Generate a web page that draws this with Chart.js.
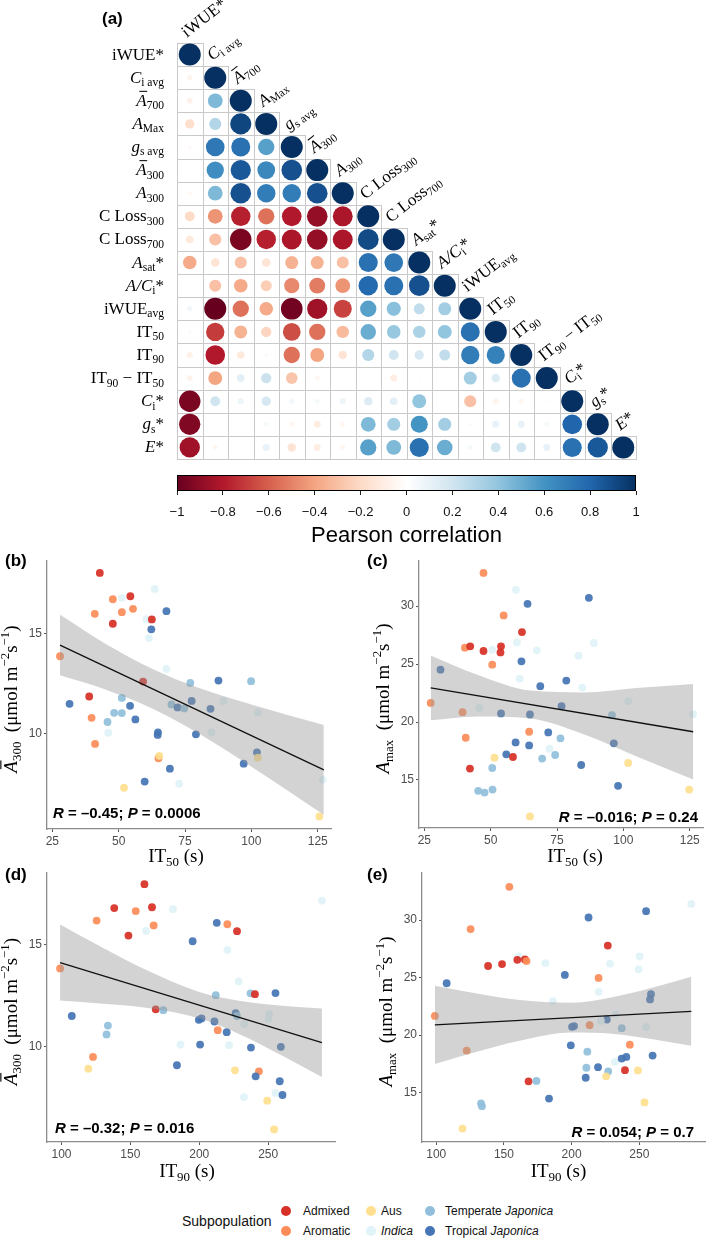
<!DOCTYPE html>
<html>
<head>
<meta charset="utf-8">
<title>Correlation matrix and scatter plots</title>
<script src="https://cdn.jsdelivr.net/npm/chart.js@4.4.1/dist/chart.umd.min.js"></script>
<style>
  body { margin: 0; background: #fff; font-family: "Liberation Sans", Arial, sans-serif; }
  #page { position: relative; width: 709px; height: 1241px; overflow: hidden; }
  #page canvas { position: absolute; }
  .tag { position: absolute; font-size: 17px; font-weight: bold; line-height: 1; }
  .legend-title { position: absolute; left: 182px; top: 1212px; font-size: 14px; line-height: 18px; color: #111; }
  .dot { position: absolute; width: 10px; height: 10px; border-radius: 50%; }
  .key { position: absolute; font-size: 12px; line-height: 14px; color: #111; white-space: nowrap; }
</style>
</head>
<body>
<div id="page">
  <canvas id="corr" width="709" height="470" style="left:0;top:0"></canvas>
  <canvas id="cbar" width="709" height="82" style="left:0;top:468px"></canvas>
  <canvas id="panelB" width="350" height="340" style="left:0;top:540px"></canvas>
  <canvas id="panelC" width="359" height="340" style="left:350px;top:540px"></canvas>
  <canvas id="panelD" width="350" height="340" style="left:0;top:850px"></canvas>
  <canvas id="panelE" width="359" height="340" style="left:350px;top:850px"></canvas>
  <div class="tag" style="left:102px;top:10px">(a)</div>
  <div class="tag" style="left:5px;top:552px">(b)</div>
  <div class="tag" style="left:367px;top:552px">(c)</div>
  <div class="tag" style="left:5px;top:866px">(d)</div>
  <div class="tag" style="left:367px;top:866px">(e)</div>
  <div class="legend-title">Subpopulation</div>
  <div id="legend"></div>
</div>
<script>
// ======= Data: panel (a) =======
// variable labels: [text, flags] with i = italic, s = subscript, u = superscript, b = bar
const varLabels = [
  [['iWUE*']],
  [['C', 'i'], ['i avg', 's']],
  [['A', 'ib'], ['700', 's']],
  [['A', 'i'], ['Max', 's']],
  [['g', 'i'], ['s avg', 's']],
  [['A', 'ib'], ['300', 's']],
  [['A', 'i'], ['300', 's']],
  [['C Loss'], ['300', 's']],
  [['C Loss'], ['700', 's']],
  [['A', 'i'], ['sat', 's'], ['*']],
  [['A/C', 'i'], ['i', 's'], ['*']],
  [['iWUE'], ['avg', 's']],
  [['IT'], ['50', 's']],
  [['IT'], ['90', 's']],
  [['IT'], ['90', 's'], [' \u2212 IT'], ['50', 's']],
  [['C', 'i'], ['i', 's'], ['*']],
  [['g', 'i'], ['s', 's'], ['*']],
  [['E', 'i'], ['*']]
];

// lower triangle of the Pearson matrix, row by row
const corrRows = [
  [1],
  [-0.06, 1],
  [-0.07, 0.45, 1],
  [-0.18, 0.3, 0.92, 1],
  [-0.03, 0.72, 0.75, 0.55, 1],
  [-0.01, 0.62, 0.85, 0.65, 0.88, 1],
  [-0.04, 0.45, 0.88, 0.7, 0.7, 0.88, 1],
  [-0.2, -0.45, -0.78, -0.55, -0.8, -0.88, -0.82, 1],
  [-0.12, -0.3, -0.95, -0.78, -0.82, -0.88, -0.82, 0.9, 1],
  [-0.38, -0.15, -0.3, -0.15, -0.35, -0.35, -0.3, 0.75, 0.72, 1],
  [-0.02, -0.3, -0.38, -0.25, -0.48, -0.52, -0.45, 0.78, 0.75, 0.88, 1],
  [0.06, -1.0, -0.55, -0.38, -0.97, -0.85, -0.68, 0.55, 0.42, 0.25, 0.35, 1],
  [-0.03, -0.7, -0.35, -0.22, -0.65, -0.55, -0.32, 0.5, 0.38, 0.32, 0.4, 0.75, 1],
  [-0.08, -0.8, -0.12, 0.03, -0.55, -0.4, -0.15, 0.3, 0.2, 0.18, 0.25, 0.7, 0.68, 1],
  [-0.07, -0.4, 0.12, 0.22, -0.28, -0.05, -0.01, 0.02, -0.1, 0.02, 0.01, 0.35, 0.15, 0.75, 1],
  [-0.95, 0.2, 0.08, 0.18, 0.06, 0.05, 0.08, 0.15, 0.12, 0.4, 0.01, -0.3, -0.06, -0.05, -0.02, 1],
  [-0.93, 0.01, 0.01, 0.05, -0.05, -0.1, -0.05, 0.45, 0.35, 0.6, 0.35, -0.03, 0.1, 0.1, 0.05, 0.8, 1],
  [-0.85, -0.05, -0.02, 0.1, -0.15, -0.1, -0.05, 0.55, 0.45, 0.75, 0.5, 0.05, 0.2, 0.2, 0.1, 0.75, 0.85, 1]
];

// ======= Data: scatter panels =======
const subpops = ['Admixed', 'Aromatic', 'Aus', 'Indica', 'Temperate Japonica', 'Tropical Japonica'];

// (b) IT50 vs A300
const it50B = [42.9, 63.6, 47.8, 51.2, 54.4, 41.0, 51.2, 55.4, 68.0, 47.8, 60.5, 62.5, 62.3, 61.4, 27.9, 68.0, 59.2, 77.0, 87.6, 99.9, 38.9, 31.5, 51.2, 54.3, 39.8, 48.3, 51.2, 45.8, 56.3, 46.1, 69.9, 72.2, 74.7, 77.5, 84.6, 89.5, 102.4, 64.8, 64.7, 79.1, 85.0, 41.1, 65.0, 65.3, 102.1, 102.4, 97.1, 69.3, 59.8, 52.0, 72.8, 126.9, 125.6];
const a300B = [18.05, 17.25, 16.73, 16.8, 16.88, 16.0, 16.08, 16.25, 16.13, 15.5, 15.73, 15.72, 15.22, 14.78, 13.87, 13.23, 12.6, 12.53, 12.65, 12.62, 11.85, 11.48, 11.78, 11.38, 10.78, 11.03, 11.02, 10.57, 10.7, 10.03, 11.45, 11.3, 11.25, 11.63, 11.23, 11.62, 11.05, 10.05, 9.92, 9.95, 10.05, 9.47, 8.75, 8.87, 9.05, 8.78, 8.48, 8.23, 7.58, 7.27, 7.47, 7.68, 5.83];
const subB = [0, 3, 1, 3, 0, 1, 1, 1, 5, 0, 3, 0, 5, 3, 1, 3, 0, 4, 5, 4, 0, 5, 4, 5, 1, 4, 4, 4, 5, 3, 4, 5, 4, 5, 5, 3, 3, 5, 5, 5, 3, 1, 1, 2, 5, 2, 5, 5, 5, 2, 3, 3, 2];
const fitXB = [27.9, 127.3], fitYB = [14.43, 8.17];
const bandXB = [27.9, 45, 63, 80, 100, 127.3];
const bandHiB = [15.95, 14.50, 13.22, 12.29, 11.45, 10.42];
const bandLoB = [12.91, 12.20, 11.22, 10.01, 8.33, 5.92];

// (c) IT50 vs Amax
const it50C = [47.3, 59.5, 63.9, 87.0, 54.9, 61.8, 40.3, 42.3, 47.3, 50.6, 53.9, 53.7, 59.9, 67.4, 88.9, 83.1, 61.6, 50.6, 31.1, 60.9, 68.7, 78.5, 84.5, 27.4, 45.7, 39.4, 53.9, 64.8, 76.7, 101.9, 95.7, 126.3, 64.5, 71.7, 40.6, 59.4, 76.3, 64.5, 96.4, 55.9, 72.2, 74.3, 58.4, 51.4, 69.4, 84.1, 101.8, 42.2, 50.6, 45.3, 47.7, 50.7, 98.0, 124.8, 64.8];
const amaxC = [32.87, 31.41, 30.2, 30.72, 29.2, 27.76, 26.42, 26.53, 26.13, 26.24, 26.53, 26.01, 26.87, 26.19, 26.82, 25.73, 25.24, 24.95, 24.52, 23.75, 23.09, 23.58, 22.97, 21.65, 21.22, 20.85, 20.74, 20.65, 21.37, 21.8, 20.59, 20.68, 19.16, 19.1, 18.64, 18.24, 18.59, 17.98, 18.16, 17.21, 17.7, 17.15, 16.98, 16.92, 16.84, 16.29, 16.46, 15.98, 16.03, 14.06, 13.91, 14.17, 14.49, 14.17, 11.85];
const subC = [1, 3, 5, 5, 1, 0, 1, 0, 0, 3, 0, 0, 3, 3, 3, 3, 5, 1, 5, 3, 5, 5, 3, 1, 3, 1, 5, 5, 5, 3, 4, 3, 1, 5, 1, 5, 4, 5, 5, 5, 3, 4, 0, 2, 4, 5, 2, 0, 4, 4, 4, 4, 5, 2, 2];
const fitXC = [27.4, 126.3], fitYC = [22.95, 19.16];
const bandXC = [27.4, 45, 65, 85, 105, 126.3];
const bandHiC = [25.75, 24.08, 22.71, 22.55, 22.93, 23.29];
const bandLoC = [20.15, 20.48, 20.31, 18.95, 17.03, 15.03];

// (d) IT90 vs A300
const it90D = [160.2, 289.0, 138.3, 153.9, 165.7, 180.9, 125.5, 166.9, 161.4, 148.6, 212.7, 220.4, 227.4, 195.2, 220.4, 99.0, 228.6, 237.2, 240.4, 255.3, 212.0, 168.4, 173.9, 107.5, 133.7, 132.7, 199.7, 201.6, 211.0, 226.4, 227.4, 232.7, 250.7, 250.3, 213.4, 219.9, 186.4, 200.6, 221.6, 237.5, 259.2, 122.9, 119.5, 183.8, 225.9, 243.3, 240.9, 258.4, 232.4, 255.3, 249.3, 260.4, 254.3];
const a300D = [18.0, 17.19, 16.82, 16.67, 16.86, 16.77, 16.2, 15.96, 15.69, 15.46, 16.09, 16.02, 15.68, 15.18, 14.75, 13.84, 13.2, 12.61, 12.57, 12.62, 12.52, 11.82, 11.78, 11.49, 11.02, 10.58, 11.3, 11.37, 11.22, 11.63, 11.49, 11.09, 11.6, 11.35, 10.79, 10.69, 10.08, 10.08, 10.05, 9.93, 9.97, 9.47, 8.89, 9.06, 8.81, 8.76, 8.51, 8.27, 7.49, 7.69, 7.31, 7.59, 5.89];
const subD = [0, 3, 0, 1, 0, 3, 1, 1, 3, 0, 5, 1, 0, 5, 3, 1, 3, 4, 0, 5, 4, 0, 4, 5, 4, 4, 5, 5, 5, 5, 4, 3, 3, 3, 1, 5, 3, 5, 3, 5, 5, 1, 2, 5, 2, 1, 5, 5, 3, 3, 2, 5, 2];
const fitXD = [99, 289], fitYD = [14.13, 10.17];
const bandXD = [99, 130, 160, 200, 230, 260, 289];
const bandHiD = [16.01, 14.86, 13.81, 12.68, 12.23, 12.00, 11.86];
const bandLoD = [12.25, 12.10, 11.91, 11.38, 10.57, 9.54, 8.48];

// (e) IT90 vs Amax
const it90E = [154.0, 288.4, 255.0, 212.5, 125.4, 226.7, 138.3, 148.6, 161.2, 159.9, 165.5, 166.7, 180.6, 228.4, 250.2, 249.5, 107.7, 195.0, 219.9, 219.9, 186.2, 258.6, 257.9, 99.0, 232.5, 226.0, 221.7, 213.3, 200.3, 201.8, 237.0, 255.0, 122.5, 243.0, 199.4, 211.6, 232.0, 237.0, 240.4, 259.8, 210.9, 219.5, 227.0, 239.4, 249.0, 225.5, 210.4, 168.2, 174.0, 183.3, 133.1, 133.8, 253.8, 119.4];
const amaxE = [32.9, 31.41, 30.78, 30.23, 29.22, 27.79, 26.01, 26.18, 26.84, 26.55, 26.58, 26.44, 26.26, 26.21, 26.84, 25.72, 24.51, 25.23, 24.97, 23.76, 22.96, 23.56, 23.1, 21.67, 21.81, 21.35, 21.24, 20.86, 20.72, 20.78, 20.6, 20.69, 18.65, 19.17, 19.11, 18.56, 17.67, 17.96, 18.1, 18.22, 17.16, 17.21, 16.84, 16.95, 16.93, 16.41, 16.29, 15.98, 16.01, 14.48, 14.05, 13.82, 14.14, 11.87];
const subE = [1, 3, 5, 5, 1, 0, 0, 0, 3, 0, 0, 1, 3, 3, 3, 3, 5, 5, 1, 3, 3, 5, 5, 1, 3, 5, 3, 1, 5, 5, 4, 3, 1, 1, 5, 4, 3, 5, 5, 5, 4, 5, 4, 0, 2, 2, 5, 0, 4, 5, 4, 4, 2, 2];
const fitXE = [99, 288.4], fitYE = [20.89, 22.07];
const bandXE = [99, 130, 160, 200, 230, 260, 288.4];
const bandHiE = [24.29, 23.62, 23.08, 22.82, 23.30, 24.14, 25.07];
const bandLoE = [17.49, 18.54, 19.46, 20.22, 20.12, 19.64, 19.07];

// ======= Styles and helpers =======
const SERIF = '"Liberation Serif", "Times New Roman", serif';
const SANS = '"Liberation Sans", Arial, sans-serif';
Chart.defaults.font.family = SANS;

const RDBU = ['#67001F', '#B2182B', '#D6604D', '#F4A582', '#FDDBC7', '#FFFFFF', '#D1E5F0', '#92C5DE', '#4393C3', '#2166AC', '#053061'];
const SUB_COLORS = ['#D73027', '#FC8D59', '#FEE090', '#E0F3F8', '#91BFDB', '#4575B4'];

function hexRgb(h) {
  return [1, 3, 5].map(i => parseInt(h.slice(i, i + 2), 16));
}

function corrColor(v) {
  const t = (v + 1) / 2 * 10;
  const i = Math.min(9, Math.floor(t));
  const f = t - i;
  const a = hexRgb(RDBU[i]), b = hexRgb(RDBU[i + 1]);
  return 'rgb(' + a.map((c, k) => Math.round(c + (b[k] - c) * f)).join(',') + ')';
}

function alpha(hex, a) {
  const [r, g, b] = hexRgb(hex);
  return `rgba(${r},${g},${b},${a})`;
}

function segFont(flags, size, family, weight) {
  const small = flags.includes('s') || flags.includes('u');
  return (flags.includes('i') ? 'italic ' : '') + (weight === 'bold' ? 'bold ' : '') +
    (small ? size * 0.68 : size) + 'px ' + family;
}

// draws text with italic / subscript / superscript / bar pieces
function drawRich(ctx, segs, x, y, size, align, family = SERIF, weight = 'normal') {
  ctx.textAlign = 'left';
  ctx.textBaseline = 'alphabetic';
  let total = 0;
  segs.forEach(([t, f = '']) => {
    ctx.font = segFont(f, size, family, weight);
    total += ctx.measureText(t).width;
  });
  let cx = align === 'right' ? x - total : align === 'center' ? x - total / 2 : x;
  segs.forEach(([t, f = '']) => {
    ctx.font = segFont(f, size, family, weight);
    const w = ctx.measureText(t).width;
    const dy = f.includes('s') ? size * 0.2 : f.includes('u') ? -size * 0.42 : 0;
    ctx.fillText(t, cx, y + dy);
    if (f.includes('b')) ctx.fillRect(cx + w * 0.3, y - size * 0.88, w * 0.75, Math.max(1, size * 0.06));
    cx += w;
  });
}

// ======= Panel (a): correlation matrix =======
const CIRCLE_R = 11;
const cells = [];
corrRows.forEach((row, i) => row.forEach((v, j) => cells.push({ x: j, y: i, v })));

const corrDecor = {
  id: 'corrDecor',
  beforeDatasetsDraw(chart) {
    const { ctx, scales: { x: xs, y: ys } } = chart;
    ctx.save();
    ctx.strokeStyle = '#c9c9c9';
    ctx.lineWidth = 1;
    corrRows.forEach((row, i) => row.forEach((v, j) => {
      const x0 = Math.round(xs.getPixelForValue(j - 0.5)), x1 = Math.round(xs.getPixelForValue(j + 0.5));
      const y0 = Math.round(ys.getPixelForValue(i - 0.5)), y1 = Math.round(ys.getPixelForValue(i + 0.5));
      ctx.strokeRect(x0 + 0.5, y0 + 0.5, x1 - x0, y1 - y0);
    }));
    ctx.restore();
  },
  afterDraw(chart) {
    const { ctx, scales: { x: xs, y: ys } } = chart;
    ctx.save();
    ctx.fillStyle = '#000';
    varLabels.forEach((lab, i) => {
      drawRich(ctx, lab, xs.getPixelForValue(-0.5) - 13, ys.getPixelForValue(i) + 5, 17, 'right');
      ctx.save();
      ctx.translate(xs.getPixelForValue(i) - 3, ys.getPixelForValue(i - 0.5) - 5);
      ctx.rotate(-38 * Math.PI / 180);
      drawRich(ctx, lab, 0, 0, 17, 'left');
      ctx.restore();
    });
    ctx.restore();
  }
};

new Chart(document.getElementById('corr'), {
  type: 'scatter',
  data: {
    datasets: [{
      data: cells,
      pointRadius: c => CIRCLE_R * Math.sqrt(Math.abs(c.raw.v)),
      pointBackgroundColor: c => corrColor(c.raw.v),
      pointBorderWidth: 0,
      clip: false
    }]
  },
  options: {
    responsive: false,
    animation: false,
    events: [],
    layout: { padding: { left: 177, right: 73, top: 43, bottom: 2 } },
    scales: {
      x: { type: 'linear', min: -0.5, max: 17.5, display: false },
      y: { type: 'linear', min: -0.5, max: 17.5, reverse: true, display: false }
    },
    plugins: { legend: { display: false }, tooltip: { enabled: false } }
  },
  plugins: [corrDecor]
});

// ======= Colour bar =======
const cbarFill = {
  id: 'cbarFill',
  beforeDatasetsDraw(chart) {
    const { ctx, chartArea: a, scales: { x } } = chart;
    const g = ctx.createLinearGradient(x.getPixelForValue(-1), 0, x.getPixelForValue(1), 0);
    RDBU.forEach((c, i) => g.addColorStop(i / (RDBU.length - 1), c));
    ctx.save();
    ctx.fillStyle = g;
    ctx.fillRect(a.left, a.top, a.right - a.left, a.bottom - a.top);
    ctx.strokeStyle = '#000';
    ctx.lineWidth = 1;
    ctx.strokeRect(a.left + 0.5, a.top + 0.5, a.right - a.left - 1, a.bottom - a.top - 1);
    ctx.restore();
  }
};

new Chart(document.getElementById('cbar'), {
  type: 'scatter',
  data: { datasets: [] },
  options: {
    responsive: false,
    animation: false,
    events: [],
    layout: { padding: { left: 177, right: 73, top: 7, bottom: 0 } },
    scales: {
      x: {
        type: 'linear', min: -1, max: 1, position: 'bottom',
        afterFit: s => { s.height = 59; },
        ticks: {
          stepSize: 0.2, autoSkip: false, maxRotation: 0, padding: 10, color: '#111',
          font: { size: 13 },
          callback: v => String(Math.round(v * 10) / 10).replace('-', '\u2212')
        },
        grid: { display: true, drawOnChartArea: false, drawTicks: true, tickLength: 4, color: '#222' },
        border: { display: false },
        title: { display: true, text: 'Pearson correlation', color: '#000', font: { size: 22 }, padding: { top: 0, bottom: 1 } }
      },
      y: { display: false, min: 0, max: 1 }
    },
    plugins: { legend: { display: false }, tooltip: { enabled: false } }
  },
  plugins: [cbarFill]
});

// ======= Scatter panels (b)-(e) =======
const A300_TITLE = [['A', 'ib'], ['300', 's'], ['  (\u03bcmol m'], ['\u22122', 'u'], ['s'], ['\u22121', 'u'], [')']];
const AMAX_TITLE = [['A', 'i'], ['max', 's'], ['  (\u03bcmol m'], ['\u22122', 'u'], ['s'], ['\u22121', 'u'], [')']];
const IT50_TITLE = [['IT'], ['50', 's'], [' (s)']];
const IT90_TITLE = [['IT'], ['90', 's'], [' (s)']];
const TICK_FONT = { size: 12 };

function panelDecor(cfg) {
  return {
    id: 'panelDecor',
    afterDraw(chart) {
      const { ctx, chartArea: a } = chart;
      ctx.save();
      ctx.fillStyle = '#000';
      drawRich(ctx, cfg.xTitle, (a.left + a.right) / 2 + cfg.xTitleShift, cfg.xTitleY, 19, 'center');
      ctx.save();
      ctx.translate(a.left - 30, (a.top + a.bottom) / 2 + 4);
      ctx.rotate(-Math.PI / 2);
      drawRich(ctx, cfg.yTitle, 0, 0, 19, 'center');
      ctx.restore();
      const sx = cfg.statAlign === 'left' ? a.left + cfg.statDx : a.right - cfg.statDx;
      drawRich(ctx, cfg.stat, sx, a.bottom - cfg.statDy, 15, cfg.statAlign, SANS, 'bold');
      ctx.restore();
    }
  };
}

function scatterPanel(id, cfg) {
  const cv = document.getElementById(id);
  const W = cv.width, H = cv.height, A = cfg.area;
  const pts = cfg.x.map((v, i) => ({ x: v, y: cfg.y[i] }));
  const line = (xs, ys) => xs.map((v, i) => ({ x: v, y: ys[i] }));
  const axis = (min, max, step) => ({
    type: 'linear', min, max,
    ticks: { stepSize: step, includeBounds: false, autoSkip: false, maxRotation: 0, font: TICK_FONT, color: '#4d4d4d', padding: 2 },
    grid: { display: true, drawOnChartArea: false, drawTicks: true, tickLength: 3, color: '#555' },
    border: { display: true, color: '#8c8c8c', width: 1.3 }
  });
  const xAxis = axis(cfg.xMin, cfg.xMax, cfg.xStep);
  xAxis.afterFit = s => { s.height = H - A.bottom; };
  const yAxis = axis(cfg.yMin, cfg.yMax, cfg.yStep);
  yAxis.afterFit = s => { s.width = A.left; };

  new Chart(cv, {
    type: 'scatter',
    data: {
      datasets: [
        { type: 'line', data: line(cfg.fitX, cfg.fitY), borderColor: '#111', borderWidth: 1.3, pointRadius: 0, fill: false },
        { type: 'line', data: line(cfg.bandX, cfg.bandHi), borderColor: 'transparent', borderWidth: 0, pointRadius: 0,
          fill: '+1', backgroundColor: 'rgba(150,150,150,0.42)', cubicInterpolationMode: 'monotone' },
        { type: 'line', data: line(cfg.bandX, cfg.bandLo), borderColor: 'transparent', borderWidth: 0, pointRadius: 0,
          fill: false, cubicInterpolationMode: 'monotone' },
        { data: pts, pointRadius: 3.9, pointBorderWidth: 0,
          pointBackgroundColor: cfg.sub.map(g => alpha(SUB_COLORS[g], 0.93)) }
      ]
    },
    options: {
      responsive: false,
      animation: false,
      events: [],
      layout: { padding: { left: 0, right: W - A.right, top: A.top, bottom: 0 } },
      scales: { x: xAxis, y: yAxis },
      plugins: { legend: { display: false }, tooltip: { enabled: false } }
    },
    plugins: [panelDecor(cfg)]
  });
}

scatterPanel('panelB', {
  x: it50B, y: a300B, sub: subB, fitX: fitXB, fitY: fitYB, bandX: bandXB, bandHi: bandHiB, bandLo: bandLoB,
  xMin: 23, xMax: 130, xStep: 25, yMin: 5.2, yMax: 18.65, yStep: 5,
  area: { left: 47, top: 21, right: 331, bottom: 289 },
  xTitle: IT50_TITLE, xTitleShift: -13, xTitleY: 322, yTitle: A300_TITLE,
  stat: [['R', 'i'], [' = \u20130.45; '], ['P', 'i'], [' = 0.0006']], statAlign: 'left', statDx: 6, statDy: 11
});

scatterPanel('panelC', {
  x: it50C, y: amaxC, sub: subC, fitX: fitXC, fitY: fitYC, bandX: bandXC, bandHi: bandHiC, bandLo: bandLoC,
  xMin: 23, xMax: 130, xStep: 25, yMin: 10.85, yMax: 33.9, yStep: 5,
  area: { left: 69, top: 21, right: 353, bottom: 288 },
  xTitle: IT50_TITLE, xTitleShift: 14, xTitleY: 322, yTitle: AMAX_TITLE,
  stat: [['R', 'i'], [' = \u20130.016; '], ['P', 'i'], [' = 0.24']], statAlign: 'right', statDx: 5, statDy: 6
});

scatterPanel('panelD', {
  x: it90D, y: a300D, sub: subD, fitX: fitXD, fitY: fitYD, bandX: bandXD, bandHi: bandHiD, bandLo: bandLoD,
  xMin: 89.5, xMax: 298.5, xStep: 50, yMin: 5.27, yMax: 18.55, yStep: 5,
  area: { left: 47, top: 23, right: 335, bottom: 292 },
  xTitle: IT90_TITLE, xTitleShift: -4, xTitleY: 327, yTitle: A300_TITLE,
  stat: [['R', 'i'], [' = \u20130.32; '], ['P', 'i'], [' = 0.016']], statAlign: 'left', statDx: 8, statDy: 9
});

scatterPanel('panelE', {
  x: it90E, y: amaxE, sub: subE, fitX: fitXE, fitY: fitYE, bandX: bandXE, bandHi: bandHiE, bandLo: bandLoE,
  xMin: 89.5, xMax: 298.5, xStep: 50, yMin: 10.7, yMax: 34.1, yStep: 5,
  area: { left: 72, top: 23, right: 359, bottom: 292 },
  xTitle: IT90_TITLE, xTitleShift: -5, xTitleY: 327, yTitle: AMAX_TITLE,
  stat: [['R', 'i'], [' = 0.054; '], ['P', 'i'], [' = 0.7']], statAlign: 'right', statDx: 11, statDy: 5
});

// ======= Legend =======
const legendSpots = [
  { cx: 286, cy: 1211, tx: 303 }, { cx: 286, cy: 1231, tx: 303 },
  { cx: 371, cy: 1211, tx: 381 }, { cx: 371, cy: 1231, tx: 381 },
  { cx: 430, cy: 1211, tx: 445 }, { cx: 430, cy: 1231, tx: 445 }
];
const legendEl = document.getElementById('legend');
subpops.forEach((name, g) => {
  const p = legendSpots[g];
  const dot = document.createElement('div');
  dot.className = 'dot';
  dot.style.left = (p.cx - 5) + 'px';
  dot.style.top = (p.cy - 5) + 'px';
  dot.style.background = SUB_COLORS[g];
  legendEl.appendChild(dot);
  const key = document.createElement('div');
  key.className = 'key';
  key.style.left = p.tx + 'px';
  key.style.top = (p.cy - 7) + 'px';
  key.innerHTML = name.replace('Japonica', '<i>Japonica</i>').replace(/^Indica$/, '<i>Indica</i>');
  legendEl.appendChild(key);
});
</script>
</body>
</html>
